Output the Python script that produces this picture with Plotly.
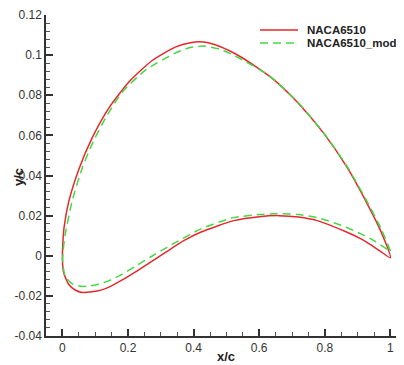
import plotly.graph_objects as go

# NACA6510 (red, solid): trailing edge -> upper surface -> leading edge -> lower surface -> trailing edge
naca_x = [1.0, 0.97, 0.929, 0.868, 0.797, 0.715, 0.634, 0.543, 0.48, 0.43, 0.39, 0.344, 0.273, 0.202,
          0.141, 0.09, 0.05, 0.019, 0.005, 0.001, 0.0,
          0.004, 0.019, 0.04, 0.06, 0.09, 0.12, 0.15, 0.18, 0.223, 0.27, 0.319, 0.37, 0.421, 0.522,
          0.6, 0.66, 0.72, 0.777, 0.868, 0.909, 0.939, 0.97, 1.0]
naca_y = [-0.001, 0.0125, 0.026, 0.044, 0.061, 0.0768, 0.0892, 0.0992, 0.1043, 0.1065, 0.1062, 0.1040, 0.0972, 0.0865,
          0.0735, 0.0585, 0.043, 0.0267, 0.014, 0.005, -0.002,
          -0.0085, -0.0142, -0.0172, -0.0183, -0.0180, -0.0170, -0.0150, -0.0123, -0.0080, -0.0030, 0.0022, 0.0075,
          0.0117, 0.0175, 0.0195, 0.020, 0.0193, 0.0175, 0.0117, 0.0085, 0.0055, 0.0022, -0.001]

# NACA6510_mod (green, dashed)
mod_x = [1.0, 0.97, 0.929, 0.868, 0.797, 0.715, 0.634, 0.543, 0.48, 0.43, 0.39, 0.344, 0.253, 0.182,
         0.131, 0.09, 0.06, 0.03, 0.009, 0.002, 0.001,
         0.008, 0.03, 0.055, 0.08, 0.11, 0.141, 0.177, 0.223, 0.27, 0.319, 0.421, 0.522,
         0.6, 0.655, 0.72, 0.777, 0.85, 0.909, 0.95, 0.99, 1.0]
mod_y = [0.002, 0.014, 0.027, 0.0445, 0.0612, 0.077, 0.0893, 0.0982, 0.1030, 0.1045, 0.1038, 0.1010, 0.0925, 0.0815,
         0.0685, 0.0555, 0.0435, 0.0275, 0.011, 0.002, -0.0033,
         -0.0100, -0.0140, -0.0152, -0.0152, -0.0142, -0.0125, -0.0097, -0.0052, -0.0005, 0.0042, 0.0133, 0.0190,
         0.0205, 0.0210, 0.0205, 0.0190, 0.0152, 0.0110, 0.0075, 0.0033, 0.002]

x_ticks = [0, 0.2, 0.4, 0.6, 0.8, 1]
x_tick_labels = ["0", "0.2", "0.4", "0.6", "0.8", "1"]
y_ticks = [-0.04, -0.02, 0, 0.02, 0.04, 0.06, 0.08, 0.1, 0.12]
y_tick_labels = ["-0.04", "-0.02", "0", "0.02", "0.04", "0.06", "0.08", "0.1", "0.12"]
series_names = ["NACA6510", "NACA6510_mod"]
x_title = "x/c"
y_title = "y/c"

RED = "#e8262b"
GREEN = "#45d845"
FONT = "Liberation Sans, Arial, sans-serif"

OFF = 8  # default page body margin
W, H = 404 - OFF, 365 - OFF
# plot area in window pixels: left 46, top 15, bottom 336, right 404
L, T = 46 - OFF, 15 - OFF
B = H - (336 - OFF)
R = 0
PW, PH = W - L - R, H - T - B


def px2paper(px, py):
    # px, py in window pixels
    return (px - OFF - L) / PW, (H - B - (py - OFF)) / PH


fig = go.Figure()
fig.add_trace(go.Scatter(x=naca_x, y=naca_y, mode="lines", name=series_names[0],
                         line=dict(color=RED, width=1.5, shape="spline", smoothing=0.6),
                         cliponaxis=False, showlegend=False))
fig.add_trace(go.Scatter(x=mod_x, y=mod_y, mode="lines", name=series_names[1],
                         line=dict(color=GREEN, width=1.5, dash="8px,5px", shape="spline", smoothing=0.6),
                         cliponaxis=False, showlegend=False))

# custom legend
shapes = []
annotations = []
for i, (name, col, dash) in enumerate([(series_names[0], RED, "solid"), (series_names[1], GREEN, "8px,5px")]):
    yy = 30 + 13 * i
    x0, y0 = px2paper(260, yy)
    x1, _ = px2paper(298, yy)
    shapes.append(dict(type="line", xref="paper", yref="paper", x0=x0, x1=x1, y0=y0, y1=y0,
                       line=dict(color=col, width=1.5, dash=dash)))
    tx, ty = px2paper(305, yy)
    annotations.append(dict(xref="paper", yref="paper", x=tx, y=ty, xanchor="left", yanchor="middle",
                            text="<b>%s</b>" % name, showarrow=False,
                            font=dict(family=FONT, size=11.5, color="#222")))

# axis titles
ax, ay = px2paper(226, 357)
annotations.append(dict(xref="paper", yref="paper", x=ax, y=ay, xanchor="center", yanchor="middle",
                        text="<b>%s</b>" % x_title, showarrow=False,
                        font=dict(family=FONT, size=13, color="#222")))
bx, by = px2paper(18, 177)
annotations.append(dict(xref="paper", yref="paper", x=bx, y=by, xanchor="center", yanchor="middle",
                        text="<b>%s</b>" % y_title, showarrow=False, textangle=-90,
                        font=dict(family=FONT, size=13, color="#222")))

axis_common = dict(showgrid=False, zeroline=False, showline=True, linecolor="#333", linewidth=1.5,
                   ticks="inside", ticklen=7, tickwidth=1.5, tickcolor="#333",
                   tickfont=dict(family=FONT, size=12, color="#333"),
                   mirror=False, automargin=False)

fig.update_layout(
    width=W, height=H,
    margin=dict(l=L, r=R, t=T, b=B, pad=0, autoexpand=False),
    paper_bgcolor="white", plot_bgcolor="white",
    showlegend=False,
    shapes=shapes, annotations=annotations,
    xaxis=dict(range=[-0.05, -0.05 + PW / 328.0], tickvals=x_ticks, ticktext=x_tick_labels,
               minor=dict(dtick=0.05, tick0=0, ticks="inside", ticklen=4, tickwidth=1, tickcolor="#555"),
               **axis_common),
    yaxis=dict(range=[-0.04, 0.12], tickvals=y_ticks, ticktext=y_tick_labels,
               minor=dict(dtick=0.004, tick0=0, ticks="inside", ticklen=4, tickwidth=1, tickcolor="#555"),
               **axis_common),
)

fig.write_html("out.html")
